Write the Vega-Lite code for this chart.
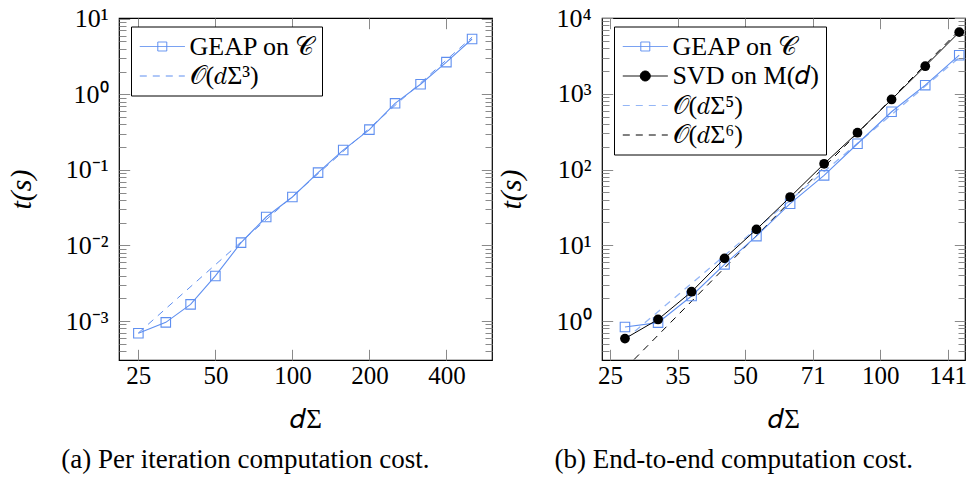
{
  "$schema": "https://vega.github.io/schema/vega-lite/v6.json",
  "background": "white",
  "padding": {"left": 5, "top": 4, "right": 0, "bottom": 0},
  "spacing": 2,
  "config": {
    "view": {"stroke": "black", "strokeWidth": 1.2},
    "font": "Liberation Serif",
    "style": {
      "guide-label": {"font": "Liberation Serif", "fontSize": 25, "fill": "black"},
      "guide-title": {"font": "Liberation Serif", "fontSize": 28, "fill": "black", "fontWeight": "normal"}
    },
    "axis": {
      "grid": false, "domain": false,
      "labelFont": "Liberation Serif", "labelFontSize": 25, "labelColor": "black",
      "titleFont": "Liberation Serif", "titleFontSize": 28, "titleFontWeight": "normal", "titleColor": "black",
      "tickColor": "#8a8a8a", "tickWidth": 1
    },
    "legend": {
      "orient": "none", "legendX": 12, "legendY": 8.5, "padding": 6.5,
      "strokeColor": "black", "strokeWidth": 1, "fillColor": "white", "cornerRadius": 0,
      "labelFont": "Liberation Serif", "labelFontSize": 26, "labelColor": "black",
      "labelOffset": 25, "symbolOffset": 0, "symbolSize": 676, "symbolStrokeWidth": 1,
      "rowPadding": 2.5, "labelLimit": 400
    }
  },
  "resolve": {"scale": {"stroke": "independent", "strokeDash": "independent", "shape": "independent", "fill": "independent"}},
  "datasets": {
    "left": [
      {"series": "GEAP on 𝒞", "x": 25, "y": 0.00069},
      {"series": "GEAP on 𝒞", "x": 32, "y": 0.00096},
      {"series": "GEAP on 𝒞", "x": 40, "y": 0.00166},
      {"series": "GEAP on 𝒞", "x": 50, "y": 0.00395},
      {"series": "GEAP on 𝒞", "x": 63, "y": 0.0109},
      {"series": "GEAP on 𝒞", "x": 79, "y": 0.0238},
      {"series": "GEAP on 𝒞", "x": 100, "y": 0.0438},
      {"series": "GEAP on 𝒞", "x": 126, "y": 0.092},
      {"series": "GEAP on 𝒞", "x": 158, "y": 0.183},
      {"series": "GEAP on 𝒞", "x": 200, "y": 0.341},
      {"series": "GEAP on 𝒞", "x": 252, "y": 0.76},
      {"series": "GEAP on 𝒞", "x": 317, "y": 1.36},
      {"series": "GEAP on 𝒞", "x": 400, "y": 2.67},
      {"series": "GEAP on 𝒞", "x": 504, "y": 5.39},
      {"series": "𝒪(𝑑Σ³)", "x": 25, "y": 0.000695},
      {"series": "𝒪(𝑑Σ³)", "x": 504, "y": 5.70}
    ],
    "right": [
      {"series": "GEAP on 𝒞", "x": 27, "y": 0.834},
      {"series": "GEAP on 𝒞", "x": 32, "y": 0.953},
      {"series": "GEAP on 𝒞", "x": 38, "y": 2.14},
      {"series": "GEAP on 𝒞", "x": 45, "y": 5.6},
      {"series": "GEAP on 𝒞", "x": 53, "y": 13.2},
      {"series": "GEAP on 𝒞", "x": 63, "y": 35.4},
      {"series": "GEAP on 𝒞", "x": 75, "y": 83.6},
      {"series": "GEAP on 𝒞", "x": 89, "y": 219},
      {"series": "GEAP on 𝒞", "x": 106, "y": 579},
      {"series": "GEAP on 𝒞", "x": 126, "y": 1298},
      {"series": "GEAP on 𝒞", "x": 150, "y": 3230},
      {"series": "SVD on M(𝑑)", "x": 27, "y": 0.586},
      {"series": "SVD on M(𝑑)", "x": 32, "y": 1.05},
      {"series": "SVD on M(𝑑)", "x": 38, "y": 2.44},
      {"series": "SVD on M(𝑑)", "x": 45, "y": 6.72},
      {"series": "SVD on M(𝑑)", "x": 53, "y": 16.2},
      {"series": "SVD on M(𝑑)", "x": 63, "y": 43.3},
      {"series": "SVD on M(𝑑)", "x": 75, "y": 119},
      {"series": "SVD on M(𝑑)", "x": 89, "y": 306},
      {"series": "SVD on M(𝑑)", "x": 106, "y": 841},
      {"series": "SVD on M(𝑑)", "x": 126, "y": 2312},
      {"series": "SVD on M(𝑑)", "x": 150, "y": 6500},
      {"series": "𝒪(𝑑Σ⁵)", "x": 27, "y": 0.569},
      {"series": "𝒪(𝑑Σ⁵)", "x": 150, "y": 3013},
      {"series": "𝒪(𝑑Σ⁶)", "x": 27, "y": 0.2347},
      {"series": "𝒪(𝑑Σ⁶)", "x": 150, "y": 6900}
    ]
  },
  "hconcat": [
    {
      "width": 373, "height": 342,
      "data": {"name": "left"},
      "title": {"text": "(a) Per iteration computation cost.", "orient": "bottom", "anchor": "middle", "frame": "bounds", "font": "Liberation Serif", "fontSize": 27, "fontWeight": "normal", "color": "black", "offset": 15, "dx": -4},
      "resolve": {"axis": {"x": "independent", "y": "independent"}},
      "layer": [
        {
          "transform": [{"filter": "datum.series === '𝒪(𝑑Σ³)'"}],
          "mark": {"type": "line", "stroke": "#5f8ff0", "strokeWidth": 1, "strokeDash": [7, 6], "clip": true},
          "encoding": {
            "x": {"field": "x", "type": "quantitative", "scale": {"type": "log", "domain": [21, 603], "nice": false}, "axis": null},
            "y": {"field": "y", "type": "quantitative", "scale": {"type": "log", "domain": [0.000305, 10.23], "nice": false},
                  "axis": {"orient": "left", "values": [0.0004,0.0005,0.0006,0.0007,0.0008,0.0009,0.002,0.003,0.004,0.005,0.006,0.007,0.008,0.009,0.02,0.03,0.04,0.05,0.06,0.07,0.08,0.09,0.2,0.3,0.4,0.5,0.6,0.7,0.8,0.9,2,3,4,5,6,7,8,9], "labels": false, "tickSize": -7, "title": null}}
          }
        },
        {
          "transform": [{"filter": "datum.series === 'GEAP on 𝒞'"}],
          "mark": {"type": "line", "stroke": "#5f8ff0", "strokeWidth": 1.1, "clip": true},
          "encoding": {
            "x": {"field": "x", "type": "quantitative", "scale": {"type": "log", "domain": [21, 603], "nice": false},
                  "axis": {"orient": "bottom", "values": [25, 50, 100, 200, 400], "format": "d", "tickSize": -10.7, "labelPadding": 14, "labelFont": "Liberation Serif", "labelFontSize": 25, "title": "𝑑Σ", "titleFont": "Liberation Serif", "titleFontSize": 27, "titlePadding": 18}},
            "y": {"field": "y", "type": "quantitative", "scale": {"type": "log", "domain": [0.000305, 10.23], "nice": false},
                  "axis": {"orient": "left", "values": [0.001, 0.01, 0.1, 1, 10], "labelExpr": "'10' + (datum.value < 0.5 ? '⁻' : '') + ['⁰','¹','²','³','⁴'][round(abs(log(datum.value)/LN10))]", "tickSize": -10.7, "labelPadding": 21.7, "labelFont": "Liberation Serif", "labelFontSize": 26, "title": "t(s)", "titleFont": "Liberation Serif", "titleFontSize": 30, "titleFontStyle": "italic", "titlePadding": 29}}
          }
        },
        {
          "transform": [{"filter": "datum.series === 'GEAP on 𝒞'"}],
          "mark": {"type": "point", "shape": "square", "size": 90, "filled": false, "stroke": "#5f8ff0", "strokeWidth": 1.1, "opacity": 1},
          "encoding": {
            "x": {"field": "x", "type": "quantitative", "scale": {"type": "log", "domain": [21, 603], "nice": false},
                  "axis": {"orient": "top", "values": [25, 50, 100, 200, 400], "labels": false, "tickSize": -10.7, "title": null}},
            "y": {"field": "y", "type": "quantitative", "scale": {"type": "log", "domain": [0.000305, 10.23], "nice": false},
                  "axis": {"orient": "right", "values": [0.001, 0.01, 0.1, 1, 10], "labels": false, "tickSize": -10.7, "title": null}}
          }
        },
        {
          "transform": [{"filter": "datum.y < 0"}],
          "mark": {"type": "point", "filled": false, "opacity": 1},
          "encoding": {
            "x": {"field": "x", "type": "quantitative", "scale": {"type": "log", "domain": [21, 603], "nice": false}, "axis": null},
            "y": {"field": "y", "type": "quantitative", "scale": {"type": "log", "domain": [0.000305, 10.23], "nice": false},
                  "axis": {"orient": "right", "values": [0.0004,0.0005,0.0006,0.0007,0.0008,0.0009,0.002,0.003,0.004,0.005,0.006,0.007,0.008,0.009,0.02,0.03,0.04,0.05,0.06,0.07,0.08,0.09,0.2,0.3,0.4,0.5,0.6,0.7,0.8,0.9,2,3,4,5,6,7,8,9], "labels": false, "tickSize": -7, "title": null}},
            "shape": {"field": "series", "type": "nominal", "scale": {"domain": ["GEAP on 𝒞", "𝒪(𝑑Σ³)"], "range": ["M-0.862,0H2.6M0.523,-0.346H1.215V0.346H0.523Z", "M-0.862,0H2.6"]}, "legend": {"title": null}},
            "stroke": {"field": "series", "type": "nominal", "scale": {"domain": ["GEAP on 𝒞", "𝒪(𝑑Σ³)"], "range": ["#5f8ff0", "#5f8ff0"]}, "legend": {"title": null}},
            "strokeDash": {"field": "series", "type": "nominal", "scale": {"domain": ["GEAP on 𝒞", "𝒪(𝑑Σ³)"], "range": [[1, 0], [7, 6]]}, "legend": {"title": null}},
            "fill": {"field": "series", "type": "nominal", "scale": {"domain": ["GEAP on 𝒞", "𝒪(𝑑Σ³)"], "range": ["transparent", "transparent"]}, "legend": {"title": null}}
          }
        }
      ]
    },
    {
      "width": 363, "height": 342,
      "data": {"name": "right"},
      "title": {"text": "(b) End-to-end computation cost.", "orient": "bottom", "anchor": "middle", "frame": "bounds", "font": "Liberation Serif", "fontSize": 27, "fontWeight": "normal", "color": "black", "offset": 15, "dx": 2},
      "resolve": {"axis": {"x": "independent", "y": "independent"}},
      "layer": [
        {
          "transform": [{"filter": "datum.series === '𝒪(𝑑Σ⁵)'"}],
          "mark": {"type": "line", "stroke": "#94b6f6", "strokeWidth": 1.3, "strokeDash": [7, 6], "clip": true},
          "encoding": {
            "x": {"field": "x", "type": "quantitative", "scale": {"type": "log", "domain": [24, 154.5], "nice": false}, "axis": null},
            "y": {"field": "y", "type": "quantitative", "scale": {"type": "log", "domain": [0.306, 10000], "nice": false},
                  "axis": {"orient": "left", "values": [0.4,0.5,0.6,0.7,0.8,0.9,2,3,4,5,6,7,8,9,20,30,40,50,60,70,80,90,200,300,400,500,600,700,800,900,2000,3000,4000,5000,6000,7000,8000,9000], "labels": false, "tickSize": -7, "title": null}}
          }
        },
        {
          "transform": [{"filter": "datum.series === '𝒪(𝑑Σ⁶)'"}],
          "mark": {"type": "line", "stroke": "black", "strokeWidth": 1, "strokeDash": [7, 6], "clip": true},
          "encoding": {
            "x": {"field": "x", "type": "quantitative", "scale": {"type": "log", "domain": [24, 154.5], "nice": false}, "axis": null},
            "y": {"field": "y", "type": "quantitative", "scale": {"type": "log", "domain": [0.306, 10000], "nice": false},
                  "axis": {"orient": "right", "values": [0.4,0.5,0.6,0.7,0.8,0.9,2,3,4,5,6,7,8,9,20,30,40,50,60,70,80,90,200,300,400,500,600,700,800,900,2000,3000,4000,5000,6000,7000,8000,9000], "labels": false, "tickSize": -7, "title": null}}
          }
        },
        {
          "transform": [{"filter": "datum.series === 'GEAP on 𝒞'"}],
          "mark": {"type": "line", "stroke": "#5f8ff0", "strokeWidth": 1.1, "clip": true},
          "encoding": {
            "x": {"field": "x", "type": "quantitative", "scale": {"type": "log", "domain": [24, 154.5], "nice": false},
                  "axis": {"orient": "bottom", "values": [25, 35.355, 50, 70.711, 100, 141.42], "format": ".0f", "tickSize": -10.7, "labelPadding": 14, "labelFont": "Liberation Serif", "labelFontSize": 25, "title": "𝑑Σ", "titleFont": "Liberation Serif", "titleFontSize": 27, "titlePadding": 18}},
            "y": {"field": "y", "type": "quantitative", "scale": {"type": "log", "domain": [0.306, 10000], "nice": false},
                  "axis": {"orient": "left", "values": [1, 10, 100, 1000, 10000], "labelExpr": "'10' + (datum.value < 0.5 ? '⁻' : '') + ['⁰','¹','²','³','⁴'][round(abs(log(datum.value)/LN10))]", "tickSize": -10.7, "labelPadding": 21.7, "labelFont": "Liberation Serif", "labelFontSize": 26, "title": "t(s)", "titleFont": "Liberation Serif", "titleFontSize": 30, "titleFontStyle": "italic", "titlePadding": 29}}
          }
        },
        {
          "transform": [{"filter": "datum.series === 'GEAP on 𝒞'"}],
          "mark": {"type": "point", "shape": "square", "size": 90, "filled": false, "stroke": "#5f8ff0", "strokeWidth": 1.1, "opacity": 1},
          "encoding": {
            "x": {"field": "x", "type": "quantitative", "scale": {"type": "log", "domain": [24, 154.5], "nice": false},
                  "axis": {"orient": "top", "values": [25, 35.355, 50, 70.711, 100, 141.42], "labels": false, "tickSize": -10.7, "title": null}},
            "y": {"field": "y", "type": "quantitative", "scale": {"type": "log", "domain": [0.306, 10000], "nice": false},
                  "axis": {"orient": "right", "values": [1, 10, 100, 1000, 10000], "labels": false, "tickSize": -10.7, "title": null}}
          }
        },
        {
          "transform": [{"filter": "datum.series === 'SVD on M(𝑑)'"}],
          "mark": {"type": "line", "stroke": "black", "strokeWidth": 1, "clip": true},
          "encoding": {
            "x": {"field": "x", "type": "quantitative", "scale": {"type": "log", "domain": [24, 154.5], "nice": false}, "axis": null},
            "y": {"field": "y", "type": "quantitative", "scale": {"type": "log", "domain": [0.306, 10000], "nice": false}, "axis": null}
          }
        },
        {
          "transform": [{"filter": "datum.series === 'SVD on M(𝑑)'"}],
          "mark": {"type": "point", "shape": "circle", "size": 95, "filled": true, "fill": "black", "opacity": 1},
          "encoding": {
            "x": {"field": "x", "type": "quantitative", "scale": {"type": "log", "domain": [24, 154.5], "nice": false}, "axis": null},
            "y": {"field": "y", "type": "quantitative", "scale": {"type": "log", "domain": [0.306, 10000], "nice": false}, "axis": null}
          }
        },
        {
          "transform": [{"filter": "datum.y < 0"}],
          "mark": {"type": "point", "filled": false, "opacity": 1},
          "encoding": {
            "x": {"field": "x", "type": "quantitative", "scale": {"type": "log", "domain": [24, 154.5], "nice": false}, "axis": null},
            "y": {"field": "y", "type": "quantitative", "scale": {"type": "log", "domain": [0.306, 10000], "nice": false}, "axis": null},
            "shape": {"field": "series", "type": "nominal", "scale": {"domain": ["GEAP on 𝒞", "SVD on M(𝑑)", "𝒪(𝑑Σ⁵)", "𝒪(𝑑Σ⁶)"], "range": ["M-0.862,0H2.6M0.523,-0.346H1.215V0.346H0.523Z", "M-0.862,0H2.6M0.484,0A0.385,0.385 0 1,0 1.254,0A0.385,0.385 0 1,0 0.484,0Z", "M-0.862,0H2.6", "M-0.862,0H2.6"]}, "legend": {"title": null}},
            "stroke": {"field": "series", "type": "nominal", "scale": {"domain": ["GEAP on 𝒞", "SVD on M(𝑑)", "𝒪(𝑑Σ⁵)", "𝒪(𝑑Σ⁶)"], "range": ["#5f8ff0", "black", "#94b6f6", "black"]}, "legend": {"title": null}},
            "strokeDash": {"field": "series", "type": "nominal", "scale": {"domain": ["GEAP on 𝒞", "SVD on M(𝑑)", "𝒪(𝑑Σ⁵)", "𝒪(𝑑Σ⁶)"], "range": [[1, 0], [1, 0], [7, 6], [7, 6]]}, "legend": {"title": null}},
            "fill": {"field": "series", "type": "nominal", "scale": {"domain": ["GEAP on 𝒞", "SVD on M(𝑑)", "𝒪(𝑑Σ⁵)", "𝒪(𝑑Σ⁶)"], "range": ["transparent", "black", "transparent", "transparent"]}, "legend": {"title": null}}
          }
        }
      ]
    }
  ]
}
